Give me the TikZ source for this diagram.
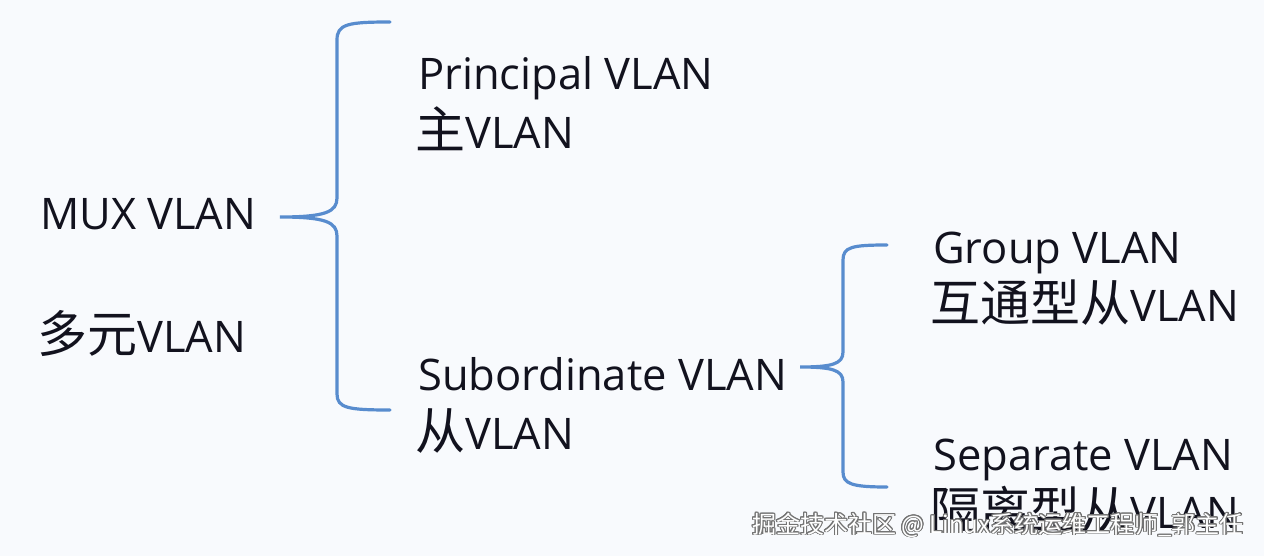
\documentclass[tikz,border=0pt]{standalone}
\usepackage{fontspec}
\setmainfont{Open Sans}
\newfontfamily\cjk{Noto Sans CJK SC}
\usepackage{xcolor}
\usepackage{contour}
\contourlength{0.9pt}
\definecolor{bracecol}{RGB}{88,140,206}
\definecolor{bgcol}{RGB}{248,250,253}
\definecolor{txtcol}{RGB}{18,18,30}
\newcommand{\zh}[1]{{\fontsize{50}{50}\cjk #1}}

\begin{document}
\begin{tikzpicture}[x=1pt, y=-1pt,
    lbl/.style={anchor=base west, inner sep=0pt, text=txtcol, font=\fontsize{43.5}{46}\selectfont},
    brace/.style={draw=bracecol, line width=3.2pt, line cap=round}]
        \fill[bgcol] (0,0) rectangle (1264,556);
        \useasboundingbox (0,0) rectangle (1264,556);

        % left column
        \node[lbl] (mux) at (40,230) {MUX VLAN};
        \node[lbl] (muxzh) at (37,352) {\zh{多元}VLAN};

        % first level
        \node[lbl] (prin) at (418,90) {Principal VLAN};
        \node[lbl] (prinzh) at (415,149) {\zh{主}VLAN};
        \node[lbl] (sub) at (418,390) {Subordinate VLAN};
        \node[lbl] (subzh) at (415,449) {\zh{从}VLAN};

        % second level
        \node[lbl] (grp) at (933,263) {Group VLAN};
        \node[lbl] (grpzh) at (930,321) {\zh{互通型从}VLAN};
        \node[lbl] (sep) at (933,470) {Separate VLAN};
        \node[lbl] (sepzh) at (930,528) {\zh{隔离型从}VLAN};

        % braces
        \coordinate (tipA) at (280,217);
        \coordinate (tipB) at (800,367);
        \draw[brace] (390,22) .. controls (348,22) and (337,24) .. (337,40) -- (337,198)
            .. controls (337,212) and (325,217) .. (tipA)
            .. controls (325,217) and (337,222) .. (337,236) -- (337,394)
            .. controls (337,408) and (348,410) .. (390,410);
        \draw[brace] (887,245) .. controls (852,245) and (843,247) .. (843,260) -- (843,352)
            .. controls (843,364) and (832,367) .. (tipB)
            .. controls (832,367) and (843,370) .. (843,382) -- (843,472)
            .. controls (843,484) and (852,487) .. (887,487);

        % watermark
        \node[anchor=base west, inner sep=0pt, text=white, font=\fontsize{24}{26}\cjk] (wm) at (752,533)
            {\contour{black!55}{掘金技术社区 @ Linux系统运维工程师\_郭主任}};
    \end{tikzpicture}
\end{document}
